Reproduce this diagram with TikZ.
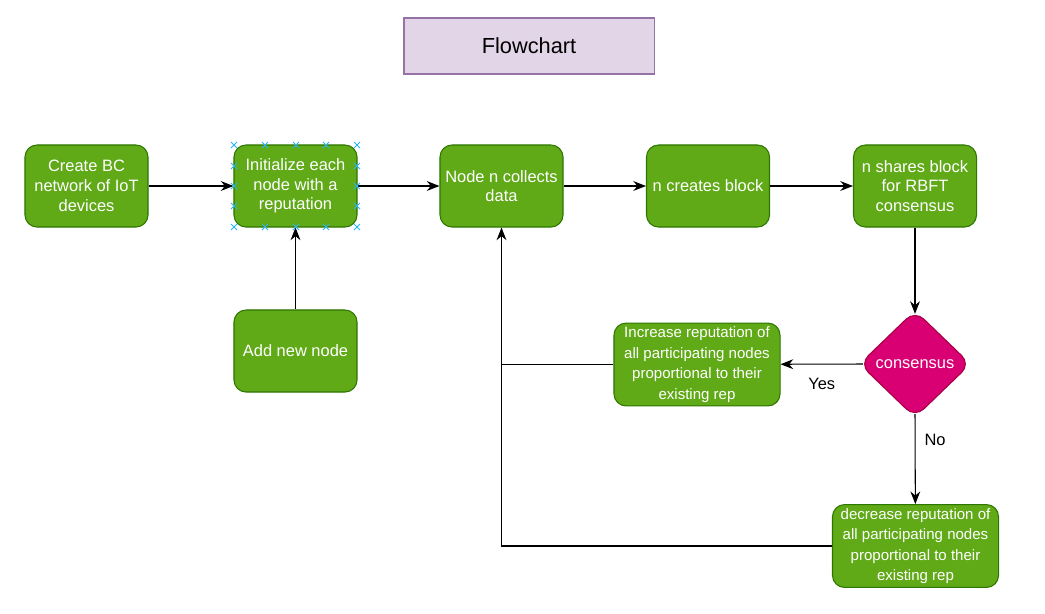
\documentclass[tikz,border=0pt]{standalone}
\usepackage{fontspec}
\setmainfont{Liberation Sans}
\usepackage{tikz}
\usetikzlibrary{
  arrows.meta,
  calc,
  positioning,
  shapes.geometric
}
\definecolor{stepgreen}{HTML}{60A917}
\definecolor{stepline}{HTML}{2D7600}
\definecolor{titlefill}{HTML}{E1D5E7}
\definecolor{titleline}{HTML}{9673A6}
\definecolor{decfill}{HTML}{D80073}
\definecolor{decline}{HTML}{A50040}
\definecolor{handle}{HTML}{29B6F2}
\tikzset{
  >={Stealth[length=9pt,width=7pt]},
  line cap=round,
  line join=round,
  every picture/.style={line width=0.75pt},
  titlebox/.style={draw=titleline, fill=titlefill, minimum width=6.25cm, minimum height=1.4cm,
    align=center, font=\fontsize{15.5}{18}\selectfont},
  stepbox/.style={draw=stepline, fill=stepgreen, text=white, rounded corners=0.3cm,
    minimum width=3.075cm, minimum height=2.05cm, align=center, inner sep=1pt,
    font=\fontsize{11.7}{14}\selectfont},
  widebox/.style={stepbox, minimum width=4.15cm, minimum height=2.07cm,
    font=\fontsize{10.7}{14.6}\selectfont},
  decision/.style={diamond, draw=decline, fill=decfill, text=white, rounded corners=0.3cm,
    inner sep=0pt, minimum width=2.78cm, minimum height=2.68cm,
    font=\fontsize{11.7}{14}\selectfont},
  arrow/.style={->},
  edgelabel/.style={font=\fontsize{11.7}{14}\selectfont},
  handlemark/.style={draw=handle, line width=0.6pt}
}
\begin{document}
\begin{tikzpicture}[x=0.025cm, y=-0.025cm]
    % 그림 영역
    \useasboundingbox (0,0) rectangle (1045,613);

    % 제목
    \node[titlebox] (title) at (529,46) {Flowchart};

    % 윗줄 단계
    \node[stepbox] (create) at (86.5,186) {Create BC\\network of IoT\\devices};
    \node[stepbox] (init) at (295.5,186) {Initialize each\\node with a\\reputation};
    \node[stepbox] (collect) at (501.5,186) {Node n collects\\data};
    \node[stepbox] (block) at (708,186) {n creates block};
    \node[stepbox] (share) at (915,186) {n shares block\\for RBFT\\consensus};

    % 새 노드, 판단, 평판 갱신
    \node[stepbox] (newnode) at (295.5,351) {Add new node};
    \node[decision] (cons) at (915,364) {consensus};
    \node[widebox] (inc) at (697,364.5) {Increase reputation of\\all participating nodes\\proportional to their\\existing rep};
    \node[widebox] (dec) at (915.5,546) {decrease reputation of\\all participating nodes\\proportional to their\\existing rep};

    % 연결선
    \draw[arrow] (create) -- (init);
    \draw[arrow] (init) -- (collect);
    \draw[arrow] (newnode) -- (init);
    \draw[arrow] (collect) -- (block);
    \draw[arrow] (block) -- (share);
    \draw[arrow] (share) -- ($(cons.north)+(0,4)$);
    \draw[arrow] ($(cons.west)+(4,0)$) -- (inc) node[edgelabel, midway, yshift=-0.5cm] {Yes};
    \draw[arrow] ($(cons.south)+(0,-4)$) -- (dec) node[edgelabel, pos=0.29, xshift=0.5cm] {No};
    \draw (inc.west) -- (inc.west -| collect.south);
    \draw[arrow] (dec.west) -| (collect.south);

    % 선택 표시
    \foreach \hx in {234,265,296,326,357} {
      \foreach \hy in {145,227} {
        \draw[handlemark] ($(\hx,\hy)+(-3,-3)$) -- ++(6,6) ($(\hx,\hy)+(-3,3)$) -- ++(6,-6);
      }
    }
    \foreach \hx in {234,357} {
      \foreach \hy in {166,186,206} {
        \draw[handlemark] ($(\hx,\hy)+(-3,-3)$) -- ++(6,6) ($(\hx,\hy)+(-3,3)$) -- ++(6,-6);
      }
    }
\end{tikzpicture}
\end{document}
